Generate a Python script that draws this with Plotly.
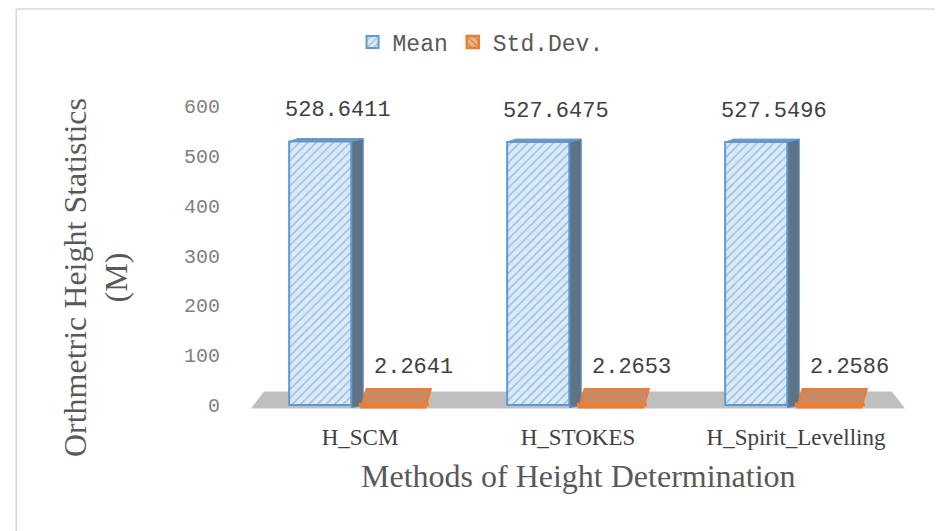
import plotly.graph_objects as go

categories = ["H_SCM", "H_STOKES", "H_Spirit_Levelling"]
mean_vals = [528.6411, 527.6475, 527.5496]
std_vals = [2.2641, 2.2653, 2.2586]
mean_labels = ["528.6411", "527.6475", "527.5496"]
std_labels = ["2.2641", "2.2653", "2.2586"]
y_ticks = [0, 100, 200, 300, 400, 500, 600]

mono = "Liberation Mono, Courier New, monospace"
serif = "Liberation Serif, Times New Roman, serif"
grey = "#595959"

M_OFF, M_W = -0.325, 0.285   # mean bar offset / width (category units)
S_OFF, S_W = 0.0, 0.31       # std bar offset / width
M_R = M_OFF + M_W            # right edge of mean bar

fig = go.Figure()
fig.add_trace(go.Bar(
    name="Mean", x=categories, y=mean_vals, offset=M_OFF, width=M_W,
    marker=dict(color="#deebf7", line=dict(color="#5b9bd5", width=2),
                pattern=dict(shape="/", fgcolor="#5b9bd5", bgcolor="#deebf7",
                             size=6, solidity=0.3, fillmode="overlay")),
))
fig.add_trace(go.Bar(
    name="Std.Dev.", x=categories, y=std_vals, offset=S_OFF, width=S_W,
    marker=dict(color="#f4b183", line=dict(color="#ed7d31", width=2.5),
                pattern=dict(shape="\\", fgcolor="#7f6a5f", bgcolor="#f4b183",
                             size=6, solidity=0.3, fillmode="overlay")),
))

# grey floor (3D base)
fig.add_shape(type="path", xref="paper", yref="y",
              path="M 0,-7 L 1,-7 L 0.98,27 L 0.02,27 Z",
              fillcolor="#bfbfbf", line=dict(width=0), layer="below")

label_font = dict(family=mono, size=22, color="#404040")
# 3D depth faces and data labels derived from the data
for i, (m, s) in enumerate(zip(mean_vals, std_vals)):
    # side face of mean bar
    fig.add_shape(type="path", xref="x", yref="y", layer="below",
                  path=f"M {i+M_R},-5 L {i+M_R},{m} L {i+M_R+0.055},{m+6} L {i+M_R+0.055},-2 Z",
                  fillcolor="#5f7386", line=dict(color="#5b9bd5", width=1))
    # top face of mean bar
    fig.add_shape(type="path", xref="x", yref="y", layer="below",
                  path=f"M {i+M_OFF},{m} L {i+M_R},{m} L {i+M_R+0.055},{m+6} L {i+M_OFF+0.04},{m+6} Z",
                  fillcolor="#7f93a8", line=dict(color="#5b9bd5", width=1))
    # slab of std bar
    fig.add_shape(type="path", xref="x", yref="y", layer="below",
                  path=f"M {i+S_OFF+0.005},-5 L {i+S_OFF+S_W-0.01},-5 L {i+S_OFF+S_W+0.015},{s+30} L {i+S_OFF+0.03},{s+30} Z",
                  fillcolor="#c98a63", line=dict(color="#ed7d31", width=2))
    fig.add_annotation(x=i + M_OFF + M_W / 2 + 0.08, y=m, text=mean_labels[i],
                       yshift=31, showarrow=False, xanchor="center",
                       yanchor="middle", font=label_font)
    fig.add_annotation(x=i + S_OFF + S_W / 2 + 0.09, y=s, text=std_labels[i],
                       yshift=36, showarrow=False, xanchor="center",
                       yanchor="middle", font=label_font)

# chart frame (left and top edges)
fig.add_shape(type="line", xref="paper", yref="paper", x0=-0.359, x1=-0.359,
              y0=-0.45, y1=1.32, line=dict(color="#d9d9d9", width=1.5))
fig.add_shape(type="line", xref="paper", yref="paper", x0=-0.359, x1=1.1,
              y0=1.32, y1=1.32, line=dict(color="#d9d9d9", width=1.5))

fig.add_annotation(text="Orthmetric Height Statistics<br>(M)", textangle=-90,
                   xref="paper", yref="paper", x=-0.237, y=0.432,
                   xanchor="center", yanchor="middle", showarrow=False,
                   font=dict(family=serif, size=32, color=grey))
fig.add_annotation(text="Methods of Height Determination",
                   xref="paper", yref="paper", x=0.5, y=-0.221,
                   xanchor="center", yanchor="middle", showarrow=False,
                   font=dict(family=serif, size=32, color=grey))

fig.update_layout(
    width=935, height=523,
    margin=dict(l=243, r=38, t=98, b=122),
    paper_bgcolor="white", plot_bgcolor="white",
    barmode="group",
    showlegend=True,
    legend=dict(orientation="h", x=0.351, y=1.211, xanchor="center",
                yanchor="middle", font=dict(family=mono, size=23, color=grey),
                itemwidth=30, tracegroupgap=0),
    xaxis=dict(showgrid=False, showline=False, ticks="",
               tickfont=dict(family=serif, size=23, color="#404040"),
               ticklabelstandoff=12),
    yaxis=dict(range=[-8, 600], tickvals=y_ticks, showgrid=False,
               zeroline=False, showline=False, ticks="",
               tickfont=dict(family=mono, size=20, color="#7f7f7f"),
               ticklabelstandoff=30),
)

fig.write_html("out.html")
